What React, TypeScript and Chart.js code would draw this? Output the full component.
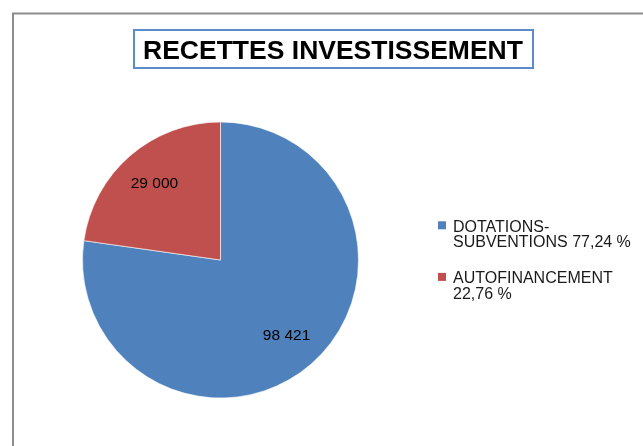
import React, { useEffect, useRef } from "react";
import { Chart, registerables } from "chart.js";

Chart.register(...registerables);

// ---- Data ----
const chartTitle = "RECETTES INVESTISSEMENT";
const categories = ["DOTATIONS-SUBVENTIONS", "AUTOFINANCEMENT"];
const values = [98421, 29000];
const percentLabels = ["77,24 %", "22,76 %"];
const legendLines = [
  ["DOTATIONS-", "SUBVENTIONS " + percentLabels[0]],
  ["AUTOFINANCEMENT", percentLabels[1]],
];
const sliceColors = ["#4f81bd", "#c0504d"];

const FONT = "'Liberation Sans', Arial, sans-serif";

function formatNumber(n: number): string {
  return String(Math.round(n)).replace(/\B(?=(\d{3})+(?!\d))/g, " ");
}

const decorPlugin = {
  id: "decor",
  afterDraw(chart: any) {
    const ctx: CanvasRenderingContext2D = chart.ctx;
    ctx.save();

    // outer frame (extends beyond canvas on right/bottom)
    ctx.strokeStyle = "#8c8c8c";
    ctx.lineWidth = 2;
    ctx.strokeRect(13, 13.5, 700, 500);

    // title box
    ctx.fillStyle = "#ffffff";
    ctx.fillRect(134, 30, 399, 38);
    ctx.strokeStyle = "#5b8cc9";
    ctx.lineWidth = 2;
    ctx.strokeRect(134, 30, 399, 38);

    // title text
    ctx.fillStyle = "#000000";
    ctx.font = `bold 26.5px ${FONT}`;
    ctx.textAlign = "center";
    ctx.textBaseline = "alphabetic";
    ctx.fillText(chartTitle, 333, 59);

    // data labels
    const meta = chart.getDatasetMeta(0);
    ctx.font = `15.5px ${FONT}`;
    ctx.textBaseline = "middle";
    ctx.fillStyle = "#000000";
    meta.data.forEach((arc: any, i: number) => {
      const p = arc.getProps(["x", "y", "startAngle", "endAngle", "outerRadius"], true);
      const mid = (p.startAngle + p.endAngle) / 2;
      const r = p.outerRadius * 0.73;
      ctx.fillText(formatNumber(values[i]), p.x + Math.cos(mid) * r, p.y + Math.sin(mid) * r);
    });

    // legend
    ctx.font = `16px ${FONT}`;
    ctx.textAlign = "left";
    ctx.textBaseline = "alphabetic";
    const lineH = 15.6;
    const itemGap = 36;
    let baseline = 231.7;
    legendLines.forEach((lines, i) => {
      ctx.fillStyle = sliceColors[i];
      ctx.fillRect(438, baseline - 10.4, 8, 8);
      ctx.fillStyle = "#1a1a1a";
      lines.forEach((ln, j) => {
        ctx.fillText(ln, 453, baseline + j * lineH);
      });
      baseline += (lines.length - 1) * lineH + itemGap;
    });

    ctx.restore();
  },
};

export default function App() {
  const ref = useRef<HTMLCanvasElement>(null);
  useEffect(() => {
    const chart = new Chart(ref.current as HTMLCanvasElement, {
      type: "pie",
      data: {
        labels: categories,
        datasets: [
          {
            data: values,
            backgroundColor: sliceColors,
            borderColor: "rgba(255,255,255,0.6)",
            borderWidth: 1,
          },
        ],
      },
      options: {
        responsive: false,
        animation: false,
        events: [],
        layout: { padding: { left: 82, right: 284, top: 121, bottom: 47 } },
        plugins: {
          legend: { display: false },
          title: { display: false },
          tooltip: { enabled: false },
        },
      },
      plugins: [decorPlugin],
    } as any);
    return () => chart.destroy();
  }, []);
  return (
    <div style={{ position: "fixed", left: 0, top: 0, width: 643, height: 446, background: "#ffffff" }}>
      <canvas ref={ref} width={643} height={446} style={{ display: "block", width: 643, height: 446 }} />
    </div>
  );
}
